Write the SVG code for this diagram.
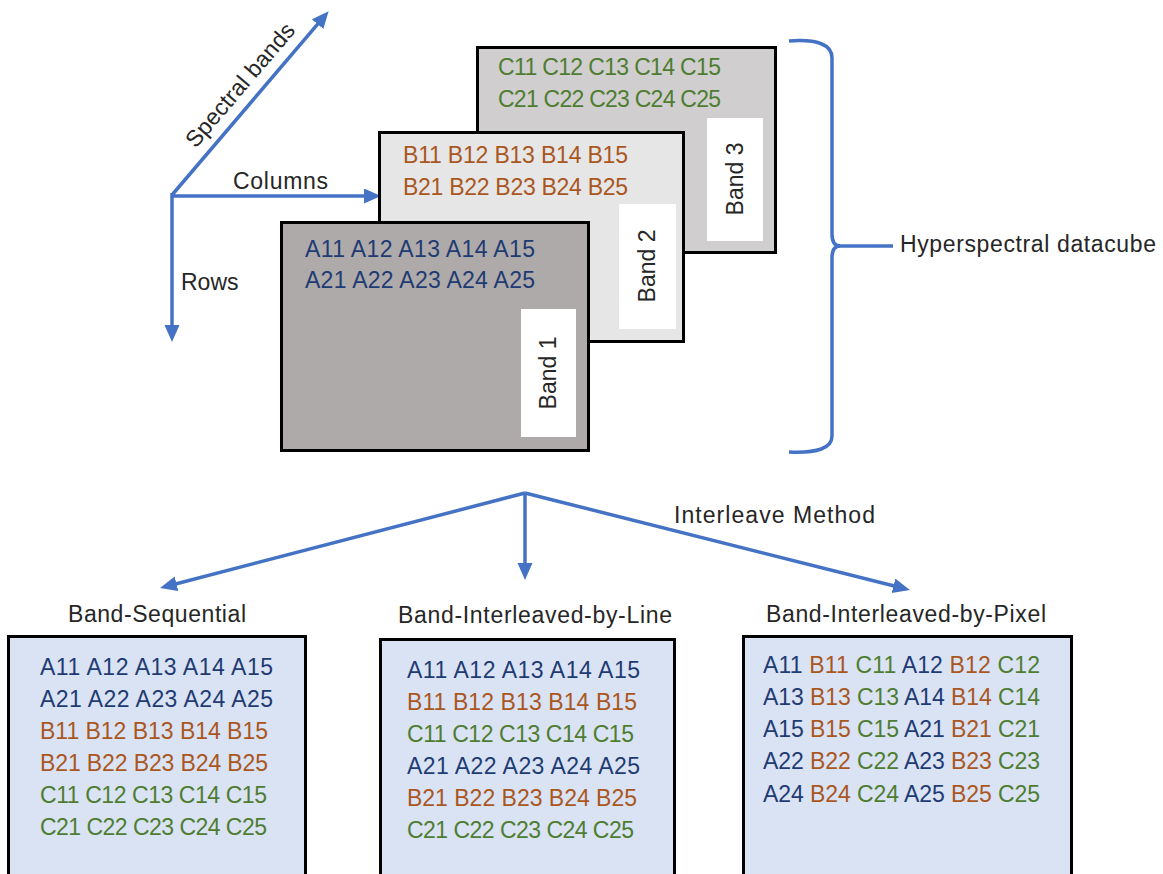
<svg xmlns="http://www.w3.org/2000/svg" width="1163" height="874" viewBox="0 0 1163 874">
<style>
text{font-family:"Liberation Sans",Arial,sans-serif;font-size:23px;fill:#262626}
.a{fill:#1F3B73}
.b{fill:#A9571F}
.c{fill:#4E7D32}
.band{stroke:#000;stroke-width:3}
.conn{stroke:#4472C4;stroke-width:3.5;fill:none}
.box{fill:#DAE3F3;stroke:#000;stroke-width:3}
</style>
<defs>
<marker id="ah" markerUnits="userSpaceOnUse" markerWidth="19" markerHeight="17" refX="6" refY="7.5" orient="auto">
<path d="M0,0 L17,7.5 L0,15 z" fill="#4472C4"/>
</marker>
</defs>
<g id="connectors">
<line class="conn" x1="172" y1="195" x2="321.5" y2="19.6" marker-end="url(#ah)"/>
<line class="conn" x1="172" y1="196" x2="370" y2="196" marker-end="url(#ah)"/>
<line class="conn" x1="172" y1="193" x2="172" y2="331" marker-end="url(#ah)"/>
<line class="conn" x1="525" y1="493" x2="170.7" y2="585.2" stroke-width="4" marker-end="url(#ah)"/>
<line class="conn" x1="525" y1="493" x2="525" y2="569" marker-end="url(#ah)"/>
<line class="conn" x1="525" y1="493" x2="899.3" y2="587.3" stroke-width="4" marker-end="url(#ah)"/>
<path class="conn" d="M789,41 Q832,38 832,58 L832,234 Q832,246 840,246 Q832,246 832,258 L832,436 Q832,454 789,452"/>
<line class="conn" x1="838" y1="246" x2="893" y2="246"/>
</g>
<g id="axis-labels">
<text x="246" y="90" text-anchor="middle" textLength="155" transform="rotate(-49.5 246 90)">Spectral bands</text>
<text x="233" y="189" textLength="95">Columns</text>
<text x="181" y="290">Rows</text>
</g>
<g id="band3">
<rect class="band" x="477.5" y="47.5" width="298" height="205" fill="#D0CECE"/>
<text class="c" x="498" y="75" textLength="223">C11 C12 C13 C14 C15</text>
<text class="c" x="498" y="107" textLength="223">C21 C22 C23 C24 C25</text>
<rect x="707" y="118" width="56" height="123" fill="#fff"/>
<text x="743" y="179" text-anchor="middle" transform="rotate(-90 743 179)">Band 3</text>
</g>
<g id="band2">
<rect class="band" x="379.5" y="132.5" width="304" height="209" fill="#E7E6E6"/>
<text class="b" x="403" y="163" textLength="225">B11 B12 B13 B14 B15</text>
<text class="b" x="403" y="195" textLength="225">B21 B22 B23 B24 B25</text>
<rect x="619" y="204" width="57" height="125" fill="#fff"/>
<text x="655" y="266" text-anchor="middle" transform="rotate(-90 655 266)">Band 2</text>
</g>
<g id="band1">
<rect class="band" x="281.5" y="222.5" width="307" height="228" fill="#AEAAAA"/>
<text class="a" x="305" y="257" textLength="230">A11 A12 A13 A14 A15</text>
<text class="a" x="305" y="288" textLength="230">A21 A22 A23 A24 A25</text>
<rect x="521" y="309" width="55" height="128" fill="#fff"/>
<text x="556" y="373" text-anchor="middle" transform="rotate(-90 556 373)">Band 1</text>
</g>
<g id="datacube-label">
<text x="900" y="252" textLength="256">Hyperspectral datacube</text>
</g>
<g id="interleave-label">
<text x="674" y="523" textLength="201">Interleave Method</text>
</g>
<g id="bsq">
<text x="68" y="622" textLength="178">Band-Sequential</text>
<rect class="box" x="8.5" y="636.5" width="297" height="250"/>
<text class="a" x="40" y="675" textLength="233">A11 A12 A13 A14 A15</text>
<text class="a" x="40" y="707" textLength="233">A21 A22 A23 A24 A25</text>
<text class="b" x="40" y="739" textLength="228">B11 B12 B13 B14 B15</text>
<text class="b" x="40" y="771" textLength="228">B21 B22 B23 B24 B25</text>
<text class="c" x="40" y="803" textLength="227">C11 C12 C13 C14 C15</text>
<text class="c" x="40" y="835" textLength="227">C21 C22 C23 C24 C25</text>
</g>
<g id="bil">
<text x="398" y="623" textLength="274">Band-Interleaved-by-Line</text>
<rect class="box" x="380.5" y="639.5" width="294" height="250"/>
<text class="a" x="407" y="678" textLength="233">A11 A12 A13 A14 A15</text>
<text class="b" x="407" y="710" textLength="230">B11 B12 B13 B14 B15</text>
<text class="c" x="407" y="742" textLength="227">C11 C12 C13 C14 C15</text>
<text class="a" x="407" y="774" textLength="233">A21 A22 A23 A24 A25</text>
<text class="b" x="407" y="806" textLength="230">B21 B22 B23 B24 B25</text>
<text class="c" x="407" y="838" textLength="227">C21 C22 C23 C24 C25</text>
</g>
<g id="bip">
<text x="766" y="622" textLength="280">Band-Interleaved-by-Pixel</text>
<rect class="box" x="743.5" y="636.5" width="328" height="250"/>
<text x="763" y="673" textLength="277"><tspan class="a">A11</tspan> <tspan class="b">B11</tspan> <tspan class="c">C11</tspan> <tspan class="a">A12</tspan> <tspan class="b">B12</tspan> <tspan class="c">C12</tspan></text>
<text x="763" y="705" textLength="277"><tspan class="a">A13</tspan> <tspan class="b">B13</tspan> <tspan class="c">C13</tspan> <tspan class="a">A14</tspan> <tspan class="b">B14</tspan> <tspan class="c">C14</tspan></text>
<text x="763" y="737" textLength="277"><tspan class="a">A15</tspan> <tspan class="b">B15</tspan> <tspan class="c">C15</tspan> <tspan class="a">A21</tspan> <tspan class="b">B21</tspan> <tspan class="c">C21</tspan></text>
<text x="763" y="769" textLength="277"><tspan class="a">A22</tspan> <tspan class="b">B22</tspan> <tspan class="c">C22</tspan> <tspan class="a">A23</tspan> <tspan class="b">B23</tspan> <tspan class="c">C23</tspan></text>
<text x="763" y="802" textLength="277"><tspan class="a">A24</tspan> <tspan class="b">B24</tspan> <tspan class="c">C24</tspan> <tspan class="a">A25</tspan> <tspan class="b">B25</tspan> <tspan class="c">C25</tspan></text>
</g>
</svg>
